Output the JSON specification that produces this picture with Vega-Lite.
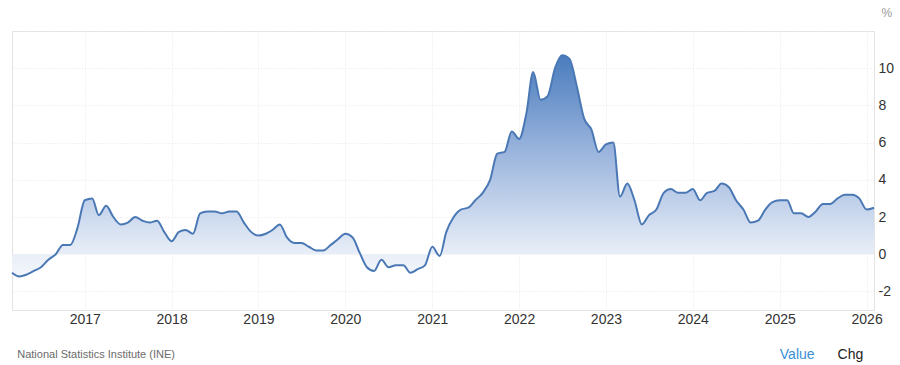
{
  "$schema": "https://vega.github.io/schema/vega-lite/v6.json",
  "width": 862,
  "height": 279,
  "autosize": {"type": "none"},
  "padding": {"left": 12, "top": 31, "right": 26, "bottom": 55},
  "background": "white",
  "config": {
    "view": {"stroke": "#e3e3e3", "strokeWidth": 1},
    "font": "Liberation Sans"
  },
  "data": {
    "values": [
      {"d": "2016-03-01", "v": -1.0}, {"d": "2016-04-01", "v": -1.2}, {"d": "2016-05-01", "v": -1.1}, {"d": "2016-06-01", "v": -0.9},
      {"d": "2016-07-01", "v": -0.7}, {"d": "2016-08-01", "v": -0.3}, {"d": "2016-09-01", "v": 0.0}, {"d": "2016-10-01", "v": 0.5},
      {"d": "2016-11-01", "v": 0.5}, {"d": "2016-12-01", "v": 1.4},
      {"d": "2017-01-01", "v": 2.9}, {"d": "2017-02-01", "v": 3.0}, {"d": "2017-03-01", "v": 2.1}, {"d": "2017-04-01", "v": 2.6},
      {"d": "2017-05-01", "v": 2.0}, {"d": "2017-06-01", "v": 1.6}, {"d": "2017-07-01", "v": 1.7}, {"d": "2017-08-01", "v": 2.0},
      {"d": "2017-09-01", "v": 1.8}, {"d": "2017-10-01", "v": 1.7}, {"d": "2017-11-01", "v": 1.8}, {"d": "2017-12-01", "v": 1.2},
      {"d": "2018-01-01", "v": 0.7}, {"d": "2018-02-01", "v": 1.2}, {"d": "2018-03-01", "v": 1.3}, {"d": "2018-04-01", "v": 1.1},
      {"d": "2018-05-01", "v": 2.2}, {"d": "2018-06-01", "v": 2.3}, {"d": "2018-07-01", "v": 2.3}, {"d": "2018-08-01", "v": 2.2},
      {"d": "2018-09-01", "v": 2.3}, {"d": "2018-10-01", "v": 2.3}, {"d": "2018-11-01", "v": 1.7}, {"d": "2018-12-01", "v": 1.2},
      {"d": "2019-01-01", "v": 1.0}, {"d": "2019-02-01", "v": 1.1}, {"d": "2019-03-01", "v": 1.3}, {"d": "2019-04-01", "v": 1.6},
      {"d": "2019-05-01", "v": 0.9}, {"d": "2019-06-01", "v": 0.6}, {"d": "2019-07-01", "v": 0.6}, {"d": "2019-08-01", "v": 0.4},
      {"d": "2019-09-01", "v": 0.2}, {"d": "2019-10-01", "v": 0.2}, {"d": "2019-11-01", "v": 0.5}, {"d": "2019-12-01", "v": 0.8},
      {"d": "2020-01-01", "v": 1.1}, {"d": "2020-02-01", "v": 0.9}, {"d": "2020-03-01", "v": 0.1}, {"d": "2020-04-01", "v": -0.7},
      {"d": "2020-05-01", "v": -0.9}, {"d": "2020-06-01", "v": -0.3}, {"d": "2020-07-01", "v": -0.7}, {"d": "2020-08-01", "v": -0.6},
      {"d": "2020-09-01", "v": -0.6}, {"d": "2020-10-01", "v": -1.0}, {"d": "2020-11-01", "v": -0.8}, {"d": "2020-12-01", "v": -0.6},
      {"d": "2021-01-01", "v": 0.4}, {"d": "2021-02-01", "v": -0.1}, {"d": "2021-03-01", "v": 1.2}, {"d": "2021-04-01", "v": 2.0},
      {"d": "2021-05-01", "v": 2.4}, {"d": "2021-06-01", "v": 2.5}, {"d": "2021-07-01", "v": 2.9}, {"d": "2021-08-01", "v": 3.3},
      {"d": "2021-09-01", "v": 4.0}, {"d": "2021-10-01", "v": 5.4}, {"d": "2021-11-01", "v": 5.5}, {"d": "2021-12-01", "v": 6.6},
      {"d": "2022-01-01", "v": 6.2}, {"d": "2022-02-01", "v": 7.6}, {"d": "2022-03-01", "v": 9.8}, {"d": "2022-04-01", "v": 8.3},
      {"d": "2022-05-01", "v": 8.5}, {"d": "2022-06-01", "v": 10.0}, {"d": "2022-07-01", "v": 10.7}, {"d": "2022-08-01", "v": 10.5},
      {"d": "2022-09-01", "v": 9.0}, {"d": "2022-10-01", "v": 7.3}, {"d": "2022-11-01", "v": 6.7}, {"d": "2022-12-01", "v": 5.5},
      {"d": "2023-01-01", "v": 5.9}, {"d": "2023-02-01", "v": 6.0}, {"d": "2023-03-01", "v": 3.1}, {"d": "2023-04-01", "v": 3.8},
      {"d": "2023-05-01", "v": 2.9}, {"d": "2023-06-01", "v": 1.6}, {"d": "2023-07-01", "v": 2.1}, {"d": "2023-08-01", "v": 2.4},
      {"d": "2023-09-01", "v": 3.3}, {"d": "2023-10-01", "v": 3.5}, {"d": "2023-11-01", "v": 3.3}, {"d": "2023-12-01", "v": 3.3},
      {"d": "2024-01-01", "v": 3.5}, {"d": "2024-02-01", "v": 2.9}, {"d": "2024-03-01", "v": 3.3}, {"d": "2024-04-01", "v": 3.4},
      {"d": "2024-05-01", "v": 3.8}, {"d": "2024-06-01", "v": 3.6}, {"d": "2024-07-01", "v": 2.9}, {"d": "2024-08-01", "v": 2.4},
      {"d": "2024-09-01", "v": 1.7}, {"d": "2024-10-01", "v": 1.8}, {"d": "2024-11-01", "v": 2.4}, {"d": "2024-12-01", "v": 2.8},
      {"d": "2025-01-01", "v": 2.9}, {"d": "2025-02-01", "v": 2.9}, {"d": "2025-03-01", "v": 2.2}, {"d": "2025-04-01", "v": 2.2},
      {"d": "2025-05-01", "v": 2.0}, {"d": "2025-06-01", "v": 2.3}, {"d": "2025-07-01", "v": 2.7}, {"d": "2025-08-01", "v": 2.7},
      {"d": "2025-09-01", "v": 3.0}, {"d": "2025-10-01", "v": 3.2}, {"d": "2025-11-01", "v": 3.2}, {"d": "2025-12-01", "v": 3.0},
      {"d": "2026-01-01", "v": 2.4}, {"d": "2026-02-01", "v": 2.5}
    ]
  },
  "encoding": {
    "x": {
      "field": "d",
      "type": "temporal",
      "scale": {"type": "utc", "nice": false, "padding": 0},
      "axis": {
        "title": null,
        "format": "%Y",
        "tickCount": {"interval": "year", "step": 1},
        "domain": false,
        "ticks": false,
        "labelFontSize": 14,
        "labelColor": "#333333",
        "labelPadding": 2,
        "labelFont": "Liberation Sans",
        "grid": true,
        "gridColor": "#e6e6e6",
        "gridDash": [1, 2],
        "labelOverlap": false
      }
    },
    "y": {
      "field": "v",
      "type": "quantitative",
      "scale": {"domain": [-3, 12], "nice": false, "zero": false},
      "axis": {
        "orient": "right",
        "values": [-2, 0, 2, 4, 6, 8, 10, 12],
        "labelExpr": "datum.value == 12 ? '' : toString(datum.value)",
        "title": "%",
        "titleAngle": 0,
        "titleX": 7,
        "titleY": -19,
        "titleAlign": "left",
        "titleBaseline": "middle",
        "titleFontSize": 12,
        "titleFontWeight": "normal",
        "titleColor": "#999999",
        "titleFont": "Liberation Sans",
        "domain": false,
        "ticks": false,
        "labelFontSize": 14,
        "labelColor": "#333333",
        "labelPadding": 4,
        "labelFont": "Liberation Sans",
        "gridColor": "#e6e6e6",
        "gridDash": [1, 2]
      }
    }
  },
  "layer": [
    {
      "mark": {
        "type": "area",
        "interpolate": "monotone",
        "color": {
          "gradient": "linear",
          "x1": 0, "y1": 0, "x2": 0, "y2": 1,
          "stops": [
            {"offset": 0, "color": "#4a7cbd"},
            {"offset": 0.45, "color": "#9db6de"},
            {"offset": 0.9, "color": "#e9eff8"},
            {"offset": 1, "color": "#f3f6fb"}
          ]
        }
      }
    },
    {
      "mark": {"type": "line", "interpolate": "monotone", "color": "#4a78b5", "strokeWidth": 2}
    },
    {
      "mark": {"type": "text", "align": "left", "baseline": "middle", "fontSize": 11, "color": "#6b6b6b", "font": "Liberation Sans"},
      "encoding": {
        "x": {"datum": {"year": 2016, "month": 3, "date": 23, "utc": true}, "type": "temporal"},
        "y": {"datum": -5.4, "type": "quantitative"},
        "text": {"condition": {"test": "utcyear(datum.d) == 2016 && utcmonth(datum.d) == 2", "value": "National Statistics Institute (INE)"}, "value": ""}
      }
    },
    {
      "mark": {"type": "text", "align": "left", "baseline": "middle", "fontSize": 14, "color": "#3a8ed6", "font": "Liberation Sans"},
      "encoding": {
        "x": {"datum": {"year": 2025, "month": 1, "date": 1, "utc": true}, "type": "temporal"},
        "y": {"datum": -5.4, "type": "quantitative"},
        "text": {"condition": {"test": "utcyear(datum.d) == 2016 && utcmonth(datum.d) == 2", "value": "Value"}, "value": ""}
      }
    },
    {
      "mark": {"type": "text", "align": "left", "baseline": "middle", "fontSize": 14, "color": "#222222", "font": "Liberation Sans"},
      "encoding": {
        "x": {"datum": {"year": 2025, "month": 9, "date": 1, "utc": true}, "type": "temporal"},
        "y": {"datum": -5.4, "type": "quantitative"},
        "text": {"condition": {"test": "utcyear(datum.d) == 2016 && utcmonth(datum.d) == 2", "value": "Chg"}, "value": ""}
      }
    }
  ]
}
